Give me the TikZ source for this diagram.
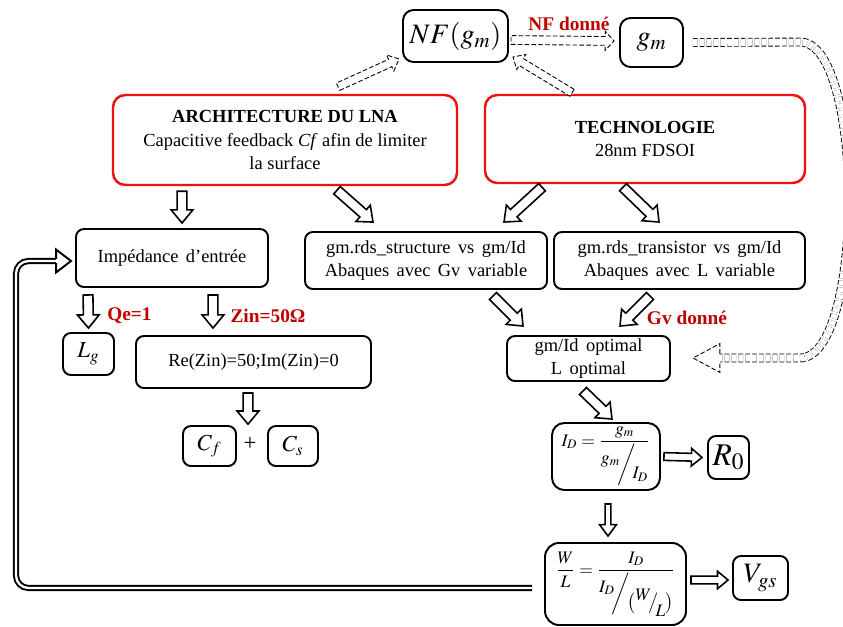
\documentclass[tikz,border=0pt]{standalone}
\usepackage{amsmath}
\usepackage{mathptmx}
\usepackage{fontspec}
\setmainfont{Liberation Serif}
\usetikzlibrary{calc}

\definecolor{boxred}{RGB}{240,16,16}
\definecolor{notered}{RGB}{192,0,0}

\newcommand\slfrac[3][\bigg]{\raisebox{0.8ex}{$#2$}\mkern-3mu#1/\mkern-3mu\raisebox{-1.1ex}{$#3$}}
\newcommand\blkclose{-- cycle}

\tikzset{
  box/.style={draw, line width=1.1pt, rounded corners=4.5pt, align=center, inner sep=0pt},
  redbox/.style={box, draw=boxred, line width=1.4pt, rounded corners=7pt},
  wide/.style={execute at begin node={\spaceskip=4.2pt plus 1pt\relax}},
  note/.style={text=notered, font=\fontsize{11}{13}\selectfont\bfseries},
  mathsize/.style={font=\fontsize{#1}{#1}\selectfont},
  dsh/.style={dash pattern=on 2.6pt off 1.3pt, line width=0.5pt},
  dbl/.style={draw, double, double distance=1.3pt, line width=1.1pt},
  blkw/.store in=\blkw, blkh/.store in=\blkh, blkl/.store in=\blkl,
  blkw=2.8pt, blkh=6.2pt, blkl=7.5pt,
  open back/.code={\def\blkclose{}},
  hollow/.style={draw, fill=white, line width=0.9pt, line join=miter,
    to path={let \p1=(\tikztostart), \p2=(\tikztotarget),
                 \n1={atan2(\y2-(\y1),\x2-(\x1))}, \n2={veclen(\x2-(\x1),\y2-(\y1))} in
      {[shift={(\p1)}, rotate=\n1]
        (0pt,-\blkw) -- ({\n2*1pt-\blkl},-\blkw) -- ({\n2*1pt-\blkl},-\blkh)
        -- ({\n2*1pt},0pt) -- ({\n2*1pt-\blkl},\blkh) -- ({\n2*1pt-\blkl},\blkw)
        -- (0pt,\blkw) \blkclose}}}
}

\begin{document}
\begin{tikzpicture}[font=\fontsize{10.5}{13.2}\selectfont]
\useasboundingbox (0,0) rectangle (16.86,-12.52);

\node[box, mathsize=16, minimum width=2.1cm, minimum height=1.04cm, rounded corners=6pt] (nf) at (9.11,-0.72) {$NF(g_m)$};
\node[box, mathsize=16, minimum width=1.26cm, minimum height=0.98cm, rounded corners=6pt] (gm) at (13.03,-0.85) {$g_m$};
\node[note] (nfd) at (11.38,-0.48) {NF donné};
\node[redbox, minimum width=6.88cm, minimum height=1.8cm] (arch) at (5.70,-2.80) {\textbf{ARCHITECTURE DU LNA}\\Capacitive feedback \textit{Cf} afin de limiter\\la surface};
\node[redbox, minimum width=6.4cm, minimum height=1.76cm] (tech) at (12.90,-2.78) {\textbf{TECHNOLOGIE}\\28nm FDSOI};
\node[box, wide, minimum width=3.84cm, minimum height=1.16cm] (imp) at (3.44,-5.16) {Impédance d’entrée};
\node[box, wide, minimum width=4.84cm, minimum height=1.14cm] (struct) at (8.52,-5.21) {gm.rds\_structure vs gm/Id\\Abaques avec Gv variable};
\node[box, wide, minimum width=5.02cm, minimum height=1.14cm] (trans) at (13.59,-5.21) {gm.rds\_transistor vs gm/Id\\Abaques avec L variable};
\node[note] (qe) at (2.59,-6.32) {Qe=1};
\node[note] (zin) at (5.36,-6.32) {Zin=50Ω};
\node[note] (gvd) at (13.74,-6.36) {Gv donné};
\node[box, mathsize=13, minimum width=1.02cm, minimum height=0.84cm] (lg) at (1.77,-7.08) {$L_g$};
\node[box, minimum width=4.7cm, minimum height=1.04cm] (re) at (5.07,-7.24) {Re(Zin)=50;Im(Zin)=0};
\node[box, wide, minimum width=3.26cm, minimum height=0.9cm] (gmid) at (11.77,-7.17) {gm/Id optimal\\L optimal};
\node[box, mathsize=13, minimum width=1.06cm, minimum height=0.8cm] (cf) at (4.19,-8.92) {$C_f$};
\node[mathsize=13, inner sep=0pt] (plus) at (5.00,-8.88) {+};
\node[box, mathsize=13, minimum width=1.0cm, minimum height=0.8cm] (cs) at (5.86,-8.92) {$C_s$};
\node[box, mathsize=10, minimum width=2.16cm, minimum height=1.34cm, rounded corners=7pt] (idb) at (12.12,-9.13) {$I_D=\dfrac{g_m}{\slfrac{g_m}{I_D}}$};
\node[box, mathsize=18, minimum width=0.82cm, minimum height=0.86cm] (r0) at (14.57,-9.15) {$R_0$};
\node[box, mathsize=10, minimum width=2.82cm, minimum height=1.64cm, rounded corners=8pt] (wl) at (12.31,-11.68) {$\dfrac{W}{L}=\dfrac{I_D}{\slfrac{I_D}{\bigl(\slfrac[\big]{W}{L}\bigr)}}$};
\node[box, mathsize=16, minimum width=1.1cm, minimum height=0.88cm] (vgs) at (15.21,-11.56) {$V_{gs}$};

\draw[hollow] ([shift={(-2.06,-0.10)}]arch.south) to ([shift={(0.20,0.10)}]imp.north);
\draw[hollow] ([shift={(1.04,-0.08)}]arch.south) to ([shift={(-1.06,0.18)}]struct.north);
\draw[hollow] ([shift={(-2.06,-0.06)}]tech.south) to ([shift={(1.56,0.18)}]struct.north);
\draw[hollow] ([shift={(-0.44,-0.06)}]tech.south) to ([shift={(-0.41,0.18)}]trans.north);
\draw[hollow] ([shift={(-1.68,-0.14)}]imp.south) to ([yshift=0.08cm]lg.north);
\draw[hollow] ([shift={(0.82,-0.14)}]imp.south) to ([shift={(-0.81,0.14)}]re.north);
\draw[hollow] ([shift={(-0.11,-0.08)}]re.south) to ([shift={(-0.04,0.26)}]plus.north);
\draw[hollow] ([shift={(1.34,-0.12)}]struct.south) to ([shift={(-1.31,0.18)}]gmid.north);
\draw[hollow] ([shift={(-0.59,-0.12)}]trans.south) to ([shift={(0.63,0.18)}]gmid.north);
\draw[hollow] ([shift={(-0.11,-0.18)}]gmid.south) to ([shift={(0.12,0.06)}]idb.north);
\draw[hollow, blkw=2.2pt, blkh=5pt, blkl=6pt] ([xshift=0.06cm]idb.east) to ([xshift=-0.10cm]r0.west);
\draw[hollow, blkw=1.6pt, blkh=4.8pt, blkl=6.5pt] ([shift={(0.04,-0.26)}]idb.south) to ([shift={(-0.15,0.12)}]wl.north);
\draw[hollow, blkw=2.2pt, blkh=5pt, blkl=6pt] ([shift={(0.08,0.08)}]wl.east) to ([shift={(-0.08,-0.04)}]vgs.west);

\draw[hollow, dsh, blkw=2.3pt, blkh=5pt, blkl=5.5pt] ([shift={(1.06,0.14)}]arch.north) to ([shift={(-0.06,0.08)}]nf.south west);
\draw[hollow, dsh, blkw=2.3pt, blkh=5pt, blkl=5.5pt] ([shift={(-1.46,0.02)}]tech.north) to ([shift={(0.08,0.12)}]nf.south east);
\draw[hollow, dsh, blkw=2.5pt, blkh=5.4pt, blkl=5pt] ([shift={(0.04,-0.08)}]nf.east) to ([shift={(-0.10,0.03)}]gm.west);

\coordinate (fbg) at ([shift={(0.98,0.01)}]gmid.east);
\draw[dsh, double, double distance=4pt] ([xshift=0.18cm]gm.east) -- (16.0,-0.84) .. controls (17.3,-0.84) and (17.3,-7.16) .. (16.0,-7.16) -- (fbg);
\draw[hollow, dsh, open back, blkw=2.5pt, blkh=8.2pt, blkl=15.3pt] (fbg) to ([shift={(0.44,0.01)}]gmid.east);

\coordinate (fbt) at ([shift={(-0.08,-0.06)}]imp.west);
\coordinate (fbh) at ([xshift=-0.30cm]fbt);
\draw[dbl, rounded corners=0.25cm] ([shift={(-0.24,-0.08)}]wl.west) -| ([xshift=-0.8cm]fbh) -- (fbh);
\draw[hollow, open back, line width=1.1pt, blkw=1.75pt, blkh=6.5pt, blkl=8.5pt] (fbh) to (fbt);
\end{tikzpicture}
\end{document}
